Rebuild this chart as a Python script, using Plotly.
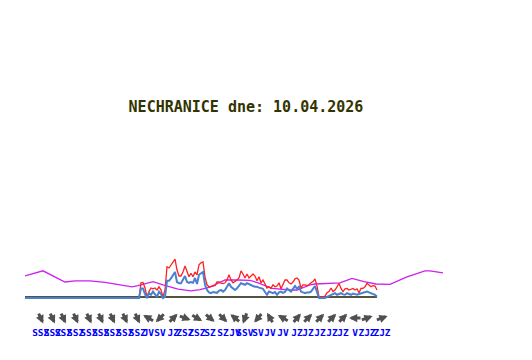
import math
import plotly.graph_objects as go

# ---- data ----
STEP_H = 1.0 / 6.0  # 10-minute samples, time in hours

wind_calm = [0.0] * 57  # calm period at start
wind_gust = wind_calm + [
    0.0, 3.8, 3.9, 2.5, 0.3, 1.6, 2.5, 2.3, 2.5, 2.0, 2.8, 2.0, 0.3, 2.0, 7.8, 7.5, 8.3, 8.8, 9.7, 7.0,
    5.5, 5.5, 6.5, 8.0, 6.5, 5.3, 6.2, 5.3, 6.5, 5.8, 8.3, 8.8, 9.0, 5.3, 3.3, 2.8, 2.9, 3.1, 3.1, 4.0,
    4.0, 3.7, 3.6, 3.8, 4.5, 5.8, 4.5, 3.8, 4.1, 4.5, 5.0, 6.8, 6.0, 5.0, 6.0, 5.0, 5.5, 6.0, 5.5, 4.3,
    5.3, 3.8, 4.5, 3.3, 2.5, 2.8, 2.4, 3.3, 2.8, 3.0, 3.8, 2.3, 3.3, 4.5, 4.5, 3.8, 3.5, 4.0, 4.8, 5.0,
    4.5, 2.5, 3.3, 3.3, 3.1, 3.3, 3.8, 4.1, 4.8, 3.0, 0.3, 0.3, 0.3, 0.5, 1.3, 1.6, 2.5, 1.6, 2.0, 2.8,
    3.7, 2.4, 1.6, 2.3, 2.4, 2.0, 2.3, 2.4, 2.0, 2.3, 1.3, 2.4, 2.4, 2.8, 3.7, 3.3, 2.8, 3.1, 3.0, 2.0,
]
wind_speed = wind_calm + [
    0.0, 2.4, 2.4, 1.0, 0.0, 1.2, 0.8, 1.6, 1.0, 0.3, 1.6, 1.0, 0.0, 0.3, 4.3, 4.3, 4.9, 5.8, 6.5, 4.0,
    3.7, 3.7, 4.8, 5.5, 4.0, 3.8, 4.0, 3.8, 5.0, 3.5, 5.8, 6.2, 6.5, 3.3, 2.0, 1.4, 1.2, 1.5, 1.4, 1.3,
    1.8, 2.0, 1.6, 2.0, 2.8, 3.7, 2.8, 2.3, 2.0, 2.4, 3.0, 3.7, 3.5, 3.3, 3.7, 3.4, 3.3, 3.0, 2.8, 2.8,
    2.6, 2.4, 2.3, 1.5, 0.8, 1.6, 1.4, 1.2, 1.5, 0.8, 1.4, 1.6, 1.3, 1.5, 2.4, 2.0, 1.6, 2.3, 3.0, 2.3,
    2.8, 1.6, 1.3, 1.2, 1.4, 1.4, 1.6, 2.3, 3.0, 1.5, 0.0, 0.0, 0.0, 0.0, 0.3, 0.5, 0.8, 1.0, 1.2, 0.8,
    1.0, 1.2, 0.9, 0.8, 1.2, 0.9, 0.8, 1.1, 1.0, 0.8, 1.0, 1.2, 1.4, 1.6, 1.6, 1.4, 1.2, 0.9, 0.8, 0.3,
]
t_wind = [i * STEP_H for i in range(len(wind_speed))]

# smooth (model / average) curve: times in hours and values
t_model = [0.0, 1.5, 3.33, 4.17, 5.42, 6.67, 7.92, 8.92, 9.42, 10.67, 11.5, 12.75, 13.83, 14.58,
           15.42, 16.67, 17.75, 18.75, 19.42, 20.58, 22.08, 22.67, 23.75, 24.17, 26.25, 27.25,
           28.25, 29.25, 30.42, 31.83, 33.33, 33.75, 34.83]
v_model = [5.5, 6.8, 4.0, 4.3, 4.3, 3.9, 3.3, 2.8, 3.1, 4.1, 3.3, 2.2, 1.8, 2.1,
           2.7, 4.5, 4.5, 4.4, 3.8, 2.4, 2.0, 2.0, 3.3, 3.5, 3.8, 4.9,
           4.1, 3.5, 3.4, 5.3, 6.8, 6.8, 6.3]

# hourly wind direction (degrees, from) and labels
t_dir = [1.31, 2.28, 3.19, 4.22, 5.33, 6.31, 7.28, 8.33, 9.36, 10.28, 11.25, 12.36, 13.33, 14.33,
         15.42, 16.5, 17.5, 18.33, 19.42, 20.42, 21.5, 22.67, 23.58, 24.58, 25.58, 26.5, 27.5,
         28.5, 29.75]
dir_deg = [335, 335, 335, 335, 335, 335, 335, 335, 335, 120, 45, 225, 290, 300,
           310, 315, 130, 20, 40, 150, 120, 220, 225, 225, 225, 225, 90,
           250, 250]
dir_lbl = ["SSZ"] * 9 + ["JV", "SV", "JZ", "ZSZ", "ZSZ", "SZ", "SZ", "JV", "SSV", "SV", "JV", "JV",
                         "JZ", "JZ", "JZ", "JZ", "JZ", "V", "ZJZ", "ZJZ"]

TITLE = "NECHRANICE dne: 10.04.2026"

# ---- figure ----
W, H = 532, 360
ML, MR, MT, MB = 25, 87, 200, 15
X_RANGE = [0, 35]
Y_RANGE = [-11.75, 24.5]
px_per_h = (W - ML - MR) / (X_RANGE[1] - X_RANGE[0])
px_per_u = (H - MT - MB) / (Y_RANGE[1] - Y_RANGE[0])

Y_ARROW = -5.0
Y_LABEL = -8.8

fig = go.Figure()

fig.add_shape(type="line", x0=0, x1=t_wind[-1], y0=0.25, y1=0.25, xref="x", yref="y",
              line=dict(color="#1a1a00", width=1.5), layer="below")

fig.add_trace(go.Scatter(x=t_model, y=v_model, mode="lines",
                         line=dict(color="#cc22ee", width=1.3), hoverinfo="skip"))
fig.add_trace(go.Scatter(x=t_wind, y=wind_gust, mode="lines",
                         line=dict(color="#ff2020", width=1.3), hoverinfo="skip"))
fig.add_trace(go.Scatter(x=t_wind, y=wind_speed, mode="lines",
                         line=dict(color="#4a80d0", width=2), hoverinfo="skip"))

fig.add_trace(go.Scatter(x=t_dir, y=[Y_LABEL] * len(t_dir), mode="text", text=dir_lbl,
                         textfont=dict(family="DejaVu Sans Mono", size=9.5, color="#0000ff",
                                       weight="bold"),
                         hoverinfo="skip"))

L = 12.0
anns = []
for t, d in zip(t_dir, dir_deg):
    phi = math.radians(d + 180)
    dx, dy = math.sin(phi), -math.cos(phi)
    tip_x = t + (L / 2 * dx) / px_per_h
    tip_y = Y_ARROW - (L / 2 * dy) / px_per_u
    anns.append(dict(x=tip_x, y=tip_y, xref="x", yref="y", ax=-L * dx, ay=-L * dy,
                     axref="pixel", ayref="pixel", showarrow=True, arrowhead=2,
                     arrowsize=0.55, arrowwidth=3.0, arrowcolor="#505050", text=" ",
                     font=dict(size=1), borderpad=0))

fig.update_layout(
    width=W, height=H, margin=dict(l=ML, r=MR, t=MT, b=MB),
    paper_bgcolor="white", plot_bgcolor="white", showlegend=False,
    title=dict(text=TITLE, x=246 / W, y=1 - 107 / H, xref="container", yref="container",
               xanchor="center", yanchor="middle",
               font=dict(family="DejaVu Sans Mono", size=15, color="#333300", weight="bold")),
    xaxis=dict(range=X_RANGE, visible=False),
    yaxis=dict(range=Y_RANGE, visible=False),
    annotations=anns,
)

fig.write_html("out.html", config={"displayModeBar": False},
               post_script="document.body.style.margin='0';")
